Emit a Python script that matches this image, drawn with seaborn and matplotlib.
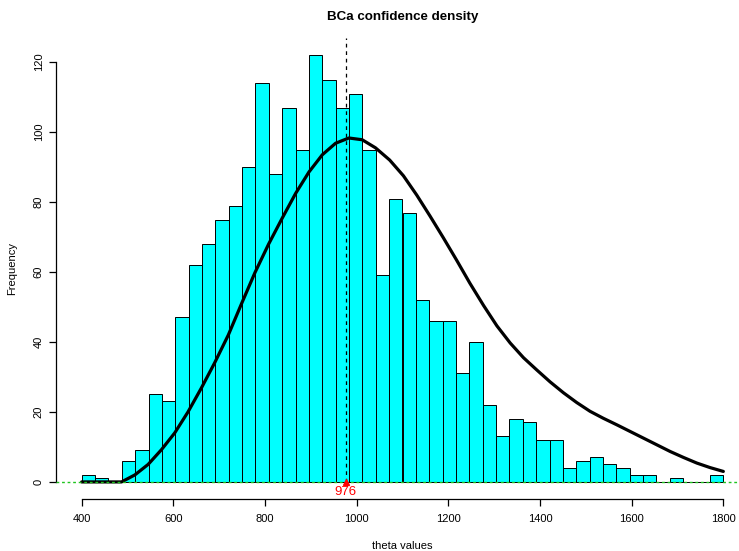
import numpy as np
import pandas as pd
import matplotlib
matplotlib.use("Agg")
import matplotlib.pyplot as plt
import seaborn as sns

# Histogram counts (48 equal bins from 400 to 1800)
bin_edges = list(np.linspace(400, 1800, 49))
counts = [2, 1, 0, 6, 9, 25, 23, 47, 62, 68, 75, 79, 90, 114, 88, 107,
          95, 122, 115, 107, 111, 95, 59, 81, 77, 52, 46, 46, 31, 40, 22, 13,
          18, 17, 12, 12, 4, 6, 7, 5, 4, 2, 2, 0, 1, 0, 0, 2]

# BCa confidence density, scaled to frequency
curve_x = [400, 487, 516, 545, 574, 603, 632, 661, 690, 720, 749, 778, 808,
           838, 867, 896, 925, 954, 983, 1012, 1041, 1072, 1102, 1131, 1160,
           1189, 1218, 1247, 1277, 1306, 1335, 1364, 1393, 1422, 1451, 1480,
           1509, 1538, 1568, 1597, 1626, 1655, 1684, 1713, 1742, 1771, 1800]
curve_y = [0, 0, 2, 5, 9.2, 14, 20, 26.8, 34, 42, 51, 59.8, 68,
           75.5, 82.5, 88.6, 93.5, 96.8, 98.3, 97.8, 95.5, 92, 87.5, 82, 76,
           69.8, 63.4, 56.8, 50.4, 44.6, 39.7, 35.5, 32, 28.6, 25.5, 22.7,
           20.2, 18.2, 16.3, 14.4, 12.5, 10.6, 8.7, 7, 5.4, 4.1, 3.0]

theta_hat = 976
x_ticks = [400, 600, 800, 1000, 1200, 1400, 1600, 1800]
y_ticks = [0, 20, 40, 60, 80, 100, 120]

sns.set_style("white")
plt.rcParams['font.family'] = ['Liberation Sans', 'DejaVu Sans']

centers = [(a + b) / 2 for a, b in zip(bin_edges[:-1], bin_edges[1:])]
df = pd.DataFrame({"theta": centers, "n": counts})
dens = pd.DataFrame({"theta": curve_x, "freq": curve_y})

fig = plt.figure(figsize=(7.39, 5.51), dpi=100)
ax = fig.add_axes([56 / 739, 52 / 551, 693 / 739, 461 / 551])

sns.histplot(data=df, x="theta", weights="n", bins=bin_edges, color="#00FFFF",
             edgecolor="black", linewidth=0.7, alpha=1, ax=ax)
sns.lineplot(data=dens, x="theta", y="freq", color="black", linewidth=2.3,
             estimator=None, sort=False, ax=ax)
ax.lines[-1].set_solid_joinstyle("round")

ax.axhline(0, color="#1FC41F", linestyle=(0, (2, 2)), linewidth=1, zorder=5)
ax.plot([theta_hat, theta_hat], [0, 127], color="black", linestyle=(0, (3, 3)),
        linewidth=0.9, zorder=6)
ax.plot([theta_hat], [0], marker="^", color="red", markersize=5, zorder=7,
        clip_on=False)
ax.text(theta_hat, -3.0, str(theta_hat), color="red", fontsize=9.5,
        ha="center", va="center", zorder=7)

ax.set_xlim(344, 1856)
ax.set_ylim(-4.88, 126.88)

for s in ["top", "right"]:
    ax.spines[s].set_visible(False)
ax.spines["left"].set_bounds(0, 120)
ax.spines["bottom"].set_bounds(400, 1800)
for s in ["left", "bottom"]:
    ax.spines[s].set_linewidth(0.9)
    ax.spines[s].set_color("black")

ax.set_xticks(x_ticks)
ax.set_yticks(y_ticks)
ax.set_yticklabels([str(v) for v in y_ticks], rotation=90, va="center")
ax.tick_params(axis="both", direction="out", length=4.8, width=0.9,
               labelsize=8, colors="black", bottom=True, left=True, pad=4)
ax.tick_params(axis="x", pad=6)

ax.set_xlabel("theta values", fontsize=8, labelpad=12, color="black")
ax.set_ylabel("Frequency", fontsize=8, labelpad=12, color="black")
ax.set_title("BCa confidence density", fontsize=9.6, fontweight="bold",
             pad=13, color="black")

fig.savefig("out.png", dpi=100)
